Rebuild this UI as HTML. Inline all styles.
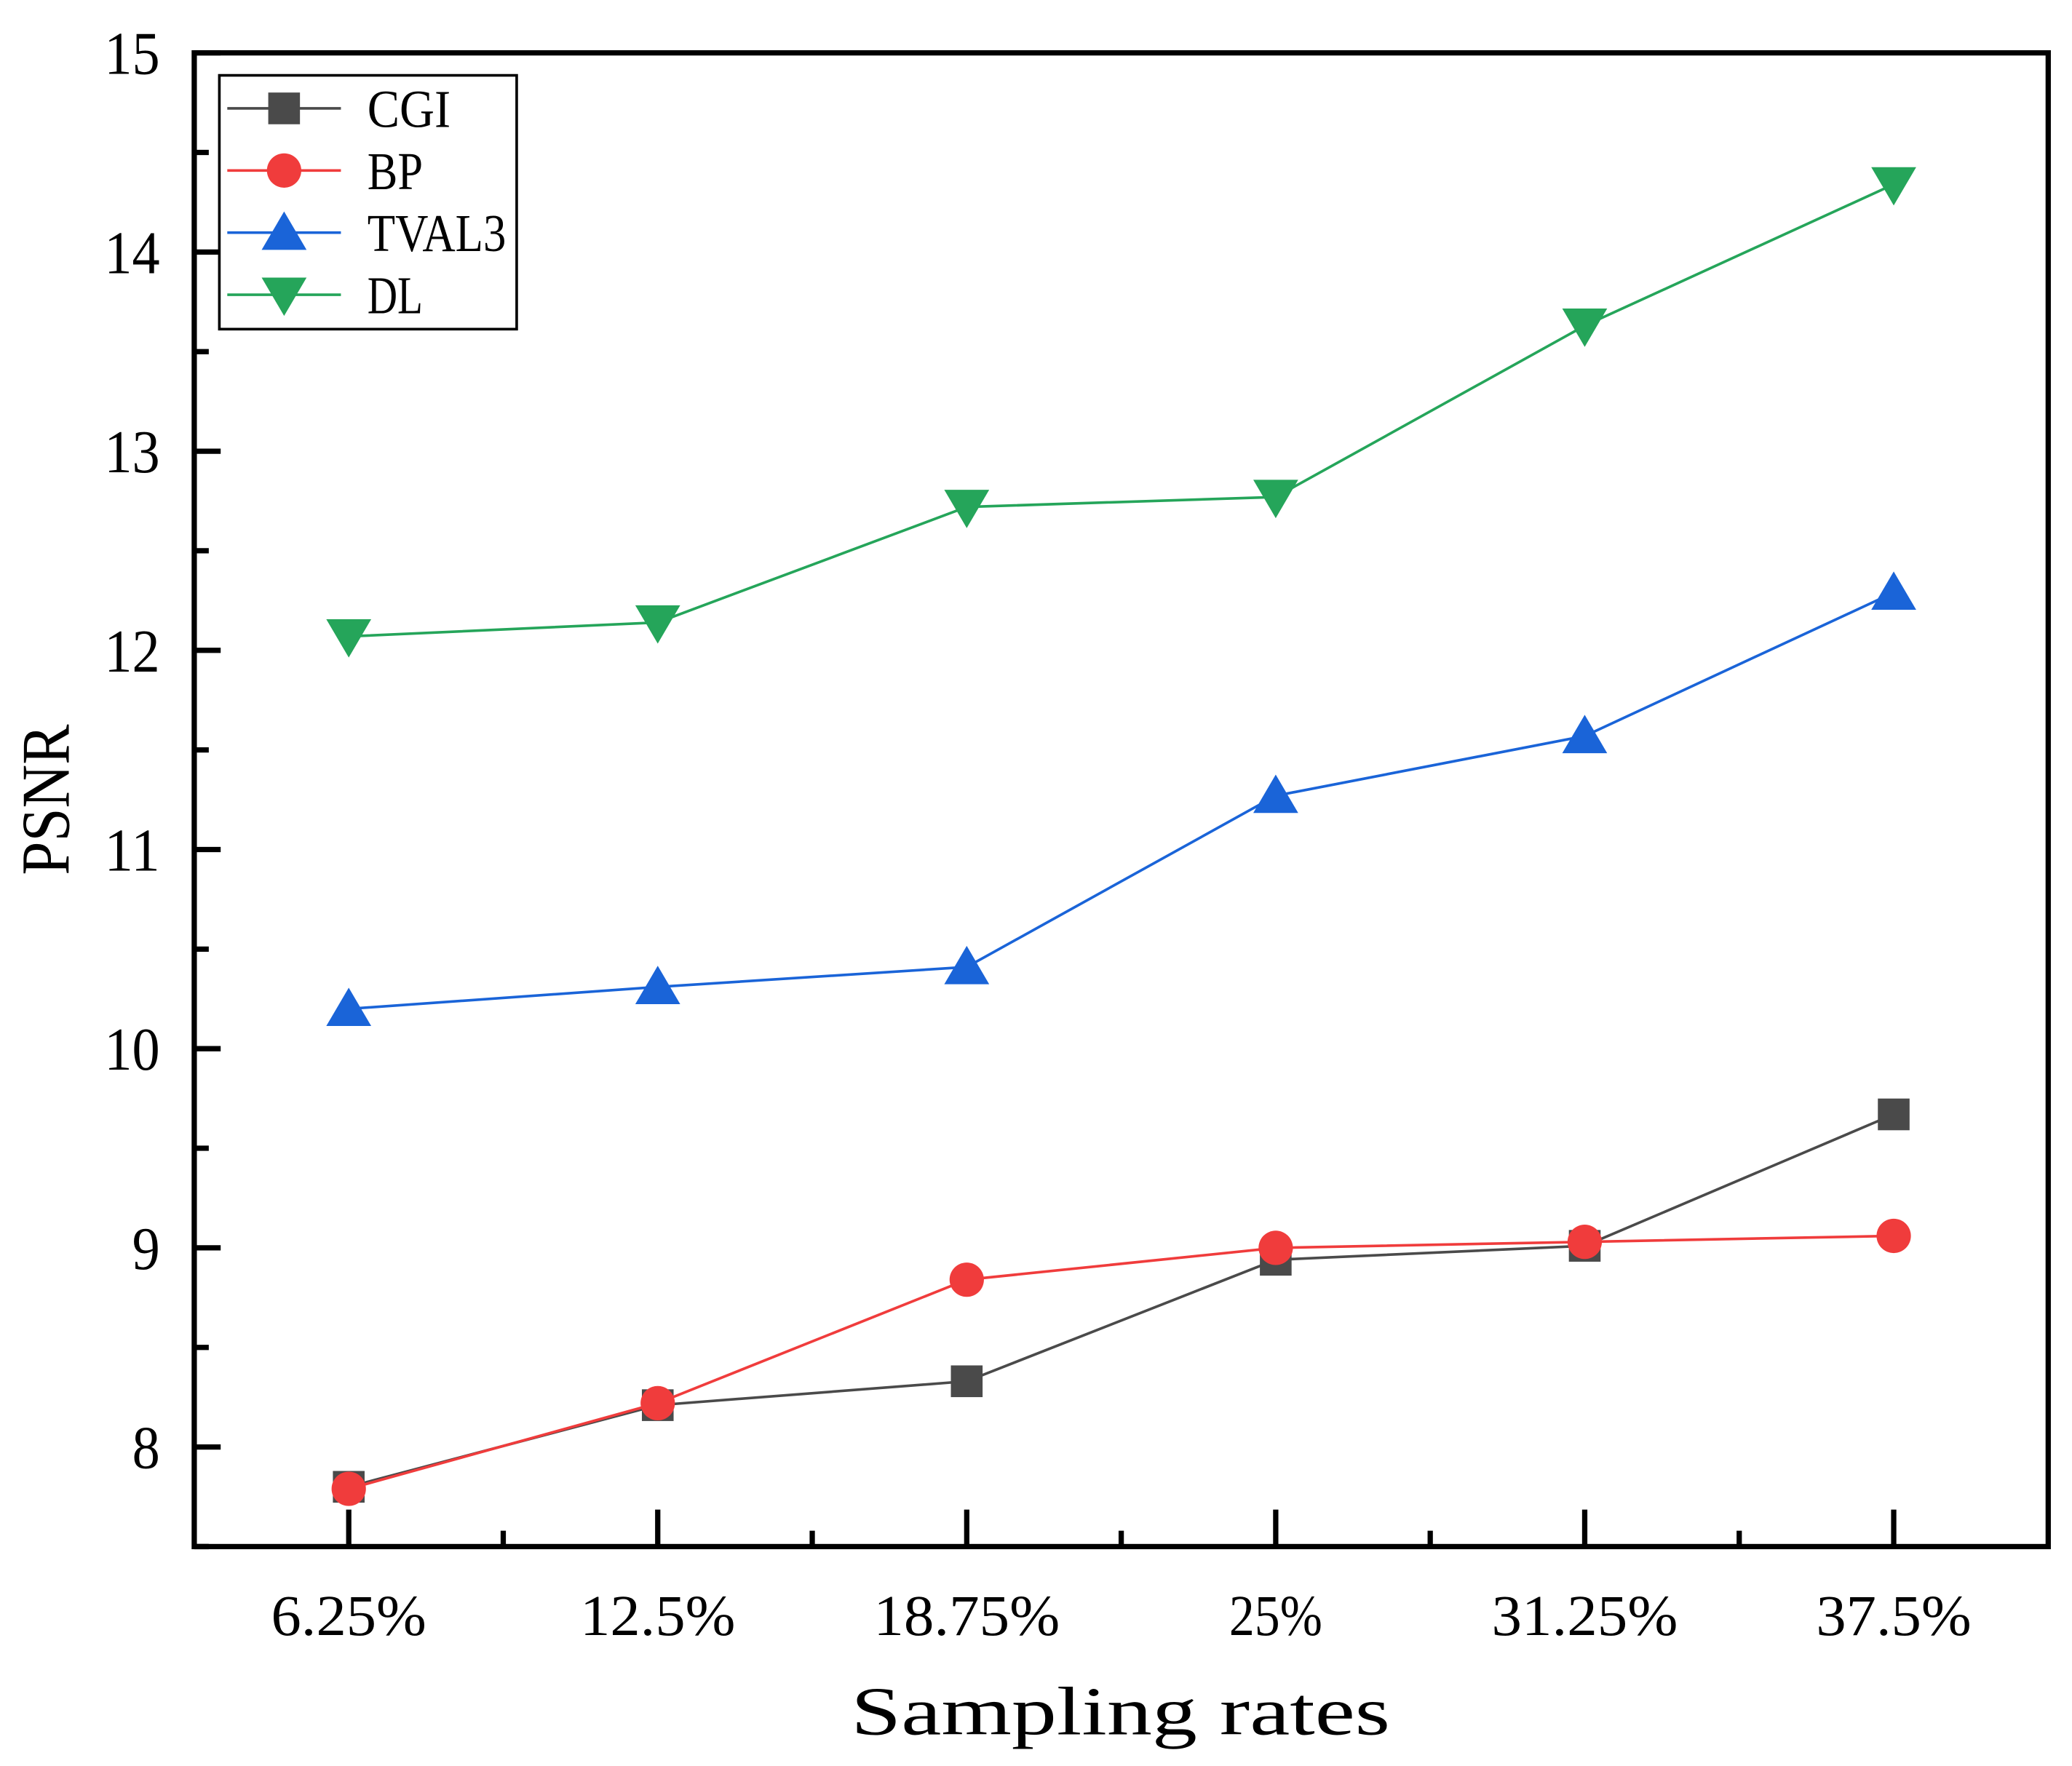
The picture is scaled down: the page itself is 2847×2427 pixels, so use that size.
<!DOCTYPE html>
<html><head><meta charset="utf-8"><style>
html,body{margin:0;padding:0;background:#fff}
svg{display:block}
text{font-family:"Liberation Serif","Noto Serif CJK SC",serif;fill:#000}
</style></head><body>
<svg id="chart" width="2847" height="2427" viewBox="0 0 1568 1336" preserveAspectRatio="none" xmlns="http://www.w3.org/2000/svg">
<g id="axes"></g>
<g id="series"></g>
<g id="legend"></g>
<text x="848" y="1312" font-size="52" text-anchor="middle" textLength="408" lengthAdjust="spacingAndGlyphs">Sampling rates</text>
<text transform="translate(52,605) rotate(-90)" font-size="52" text-anchor="middle" textLength="114" lengthAdjust="spacingAndGlyphs">PSNR</text>
</svg>
<script>
const categories=["6.25%","12.5%","18.75%","25%","31.25%","37.5%"];
const yTicks=[8,9,10,11,12,13,14,15];
const cgi=[7.8,8.21,8.33,8.94,9.01,9.67];
const bp=[7.79,8.22,8.84,9.0,9.03,9.06];
const tval3=[10.2,10.31,10.41,11.27,11.57,12.29];
const dl=[12.07,12.14,12.72,12.77,13.63,14.34];
const seriesNames=["CGI","BP","TVAL3","DL"];

const NS="http://www.w3.org/2000/svg";
const L=147,R=1550,T=40,B=1170,yMin=7.5,yMax=15;
const xs=i=>L+(i+0.5)*(R-L)/categories.length;
const ys=v=>B-(v-yMin)/(yMax-yMin)*(B-T);
function mk(tag,attrs,parent){const e=document.createElementNS(NS,tag);for(const k in attrs)e.setAttribute(k,attrs[k]);parent.appendChild(e);return e;}
const axes=document.getElementById('axes');
let fr=mk('rect',{x:L,y:T,width:R-L,height:B-T,fill:'none',stroke:'#000','stroke-width':4},axes);


yTicks.forEach(v=>{
  const y=ys(v);
  let t=mk('line',{x1:L,x2:L+20,y1:y,y2:y,stroke:'#000','stroke-width':4},axes);
  
  
  if(v-0.5>=yMin){let m=mk('line',{x1:L,x2:L+11,y1:ys(v-0.5),y2:ys(v-0.5),stroke:'#000','stroke-width':4},axes);
  
  }
  const s=String(v);
  let lb=mk('text',{x:L-26,y:y+16,'font-size':46,'text-anchor':'end',textLength:s.length*21,lengthAdjust:'spacingAndGlyphs'},axes);lb.textContent=s;
  
  
});
categories.forEach((c,i)=>{
  const x=xs(i);
  let t=mk('line',{x1:x,x2:x,y1:B,y2:B-28,stroke:'#000','stroke-width':4},axes);
  
  
  if(i<categories.length-1){let m=mk('line',{x1:x+(R-L)/categories.length/2,x2:x+(R-L)/categories.length/2,y1:B,y2:B-12,stroke:'#000','stroke-width':4},axes);
  
  }
  let lb=mk('text',{x:x,y:1237,'font-size':44,'text-anchor':'middle',textLength:c.length*23.5,lengthAdjust:'spacingAndGlyphs'},axes);lb.textContent=c;
  
  
});
const sg=document.getElementById('series');
function marker(type,x,y,color,parent){
  let e;
  if(type==='sq')e=mk('rect',{x:x-12,y:y-12,width:24,height:24,fill:color},parent);
  else if(type==='ci')e=mk('circle',{cx:x,cy:y,r:13,fill:color},parent);
  else if(type==='up')e=mk('polygon',{points:`${x},${y-16} ${x-17},${y+13} ${x+17},${y+13}`,fill:color},parent);
  else e=mk('polygon',{points:`${x},${y+16} ${x-17},${y-13} ${x+17},${y-13}`,fill:color},parent);
  return e;
}
const defs=[[cgi,'#4a4a4a','sq'],[bp,'#f03c3c','ci'],[tval3,'#1a64d8','up'],[dl,'#25a55a','dn']];
defs.forEach(([d,col,m],k)=>{
  const g=mk('g',{},sg);
  
  
  let pl=mk('polyline',{points:d.map((v,i)=>xs(i)+','+ys(v)).join(' '),fill:'none',stroke:col,'stroke-width':2},g);
  
  
  d.forEach((v,i)=>{const e=marker(m,xs(i),ys(v),col,g);
    
    });
});
const lg=document.getElementById('legend');
let box=mk('rect',{x:166,y:57,width:225,height:192,fill:'#fff',stroke:'#000','stroke-width':2},lg);


defs.forEach(([d,col,m],k)=>{
  const y=82+k*47;
  const g=mk('g',{},lg);
  
  
  mk('line',{x1:172,x2:258,y1:y,y2:y,stroke:col,'stroke-width':2},g);
  marker(m,215,y,col,g);
  const s=seriesNames[k];
  let t=mk('text',{x:278,y:y+14,'font-size':40,textLength:s.length*21,lengthAdjust:'spacingAndGlyphs'},g);t.textContent=s;
});
</script>
</body></html>
